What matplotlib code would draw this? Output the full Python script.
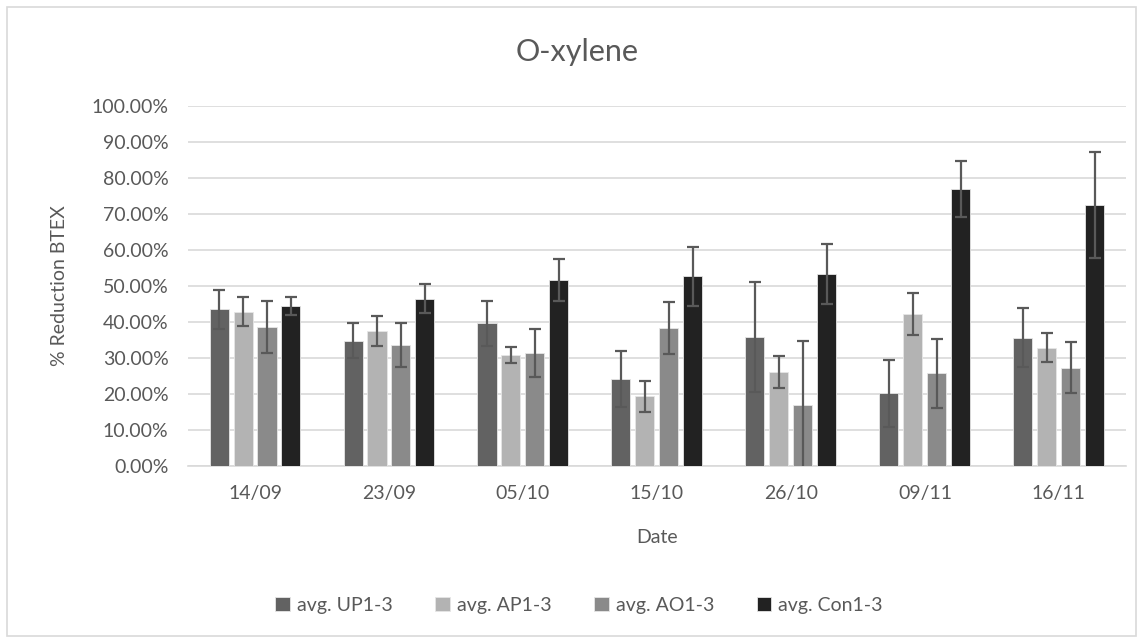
import numpy as np
import matplotlib
matplotlib.use('Agg')
import matplotlib.pyplot as plt
from matplotlib.patches import Rectangle
from matplotlib.ticker import FuncFormatter

plt.rcParams['font.family'] = ['Lato', 'DejaVu Sans']

dates = ['14/09', '23/09', '05/10', '15/10', '26/10', '09/11', '16/11']
series = ['avg. UP1-3', 'avg. AP1-3', 'avg. AO1-3', 'avg. Con1-3']

# mean % reduction per date
up = [43.5, 34.8, 39.6, 24.1, 35.9, 20.2, 35.6]
ap = [42.9, 37.5, 30.8, 19.3, 26.1, 42.3, 32.9]
ao = [38.6, 33.6, 31.4, 38.3, 17.0, 25.8, 27.3]
con = [44.4, 46.5, 51.7, 52.7, 53.3, 77.0, 72.5]

# standard deviations
up_err = [5.4, 4.8, 6.3, 7.7, 15.3, 9.3, 8.2]
ap_err = [4.1, 4.2, 2.3, 4.4, 4.5, 5.8, 3.9]
ao_err = [7.3, 6.2, 6.6, 7.2, 17.8, 9.6, 7.1]
con_err = [2.5, 4.1, 5.8, 8.2, 8.4, 7.8, 14.8]

values = [up, ap, ao, con]
errors = [up_err, ap_err, ao_err, con_err]
colors = ['#626262', '#b3b3b3', '#8a8a8a', '#222222']
text_col = '#595959'

fig = plt.figure(figsize=(11.43, 6.43), dpi=100)
ax = fig.add_axes([0.1645, 0.2753, 0.8205, 0.5599])

x = np.arange(len(dates))
width = 0.142
step = 0.179
for i, (vals, errs, col, name) in enumerate(zip(values, errors, colors, series)):
    pos = x + (i - 1.5) * step
    ax.bar(pos, vals, width, color=col, edgecolor='#e6e6e6', linewidth=0.6,
           label=name, zorder=3)
    ax.errorbar(pos, vals, yerr=errs, fmt='none', ecolor='#595959',
                elinewidth=1.6, capsize=4, capthick=1.6, zorder=4)

ax.set_xlim(-0.5, len(dates) - 0.5)
ax.set_ylim(0, 100)
ax.set_yticks(np.arange(0, 101, 10))
ax.yaxis.set_major_formatter(FuncFormatter(lambda v, p: f'{v:.2f}%'))
ax.set_xticks(x)
ax.set_xticklabels(dates)
ax.grid(axis='y', color='#d9d9d9', linewidth=1.2, zorder=0)
for s in ['top', 'right', 'left']:
    ax.spines[s].set_visible(False)
ax.spines['bottom'].set_color('#d9d9d9')
ax.spines['bottom'].set_linewidth(1.2)
ax.tick_params(axis='both', length=0, labelsize=14, labelcolor=text_col)
ax.tick_params(axis='y', pad=14)
ax.tick_params(axis='x', pad=14)

ax.set_xlabel('Date', fontsize=14, color=text_col, labelpad=19)
ax.set_ylabel('% Reduction BTEX', fontsize=14, color=text_col, labelpad=17)
fig.text(0.505, 0.919, 'O-xylene', ha='center', va='center', fontsize=22,
         color=text_col)

ax.legend(loc='center', bbox_to_anchor=(0.5066, 0.059),
          bbox_transform=fig.transFigure, ncol=4, frameon=False,
          fontsize=14, labelcolor=text_col, handlelength=0.75,
          handleheight=0.75, handletextpad=0.35, columnspacing=2.2)

fig.patches.append(Rectangle((7 / 1143, 7 / 643), 1129 / 1143, 629 / 643,
                             transform=fig.transFigure, fill=False,
                             edgecolor='#d9d9d9', linewidth=1.2))

fig.savefig('out.png', dpi=100)
